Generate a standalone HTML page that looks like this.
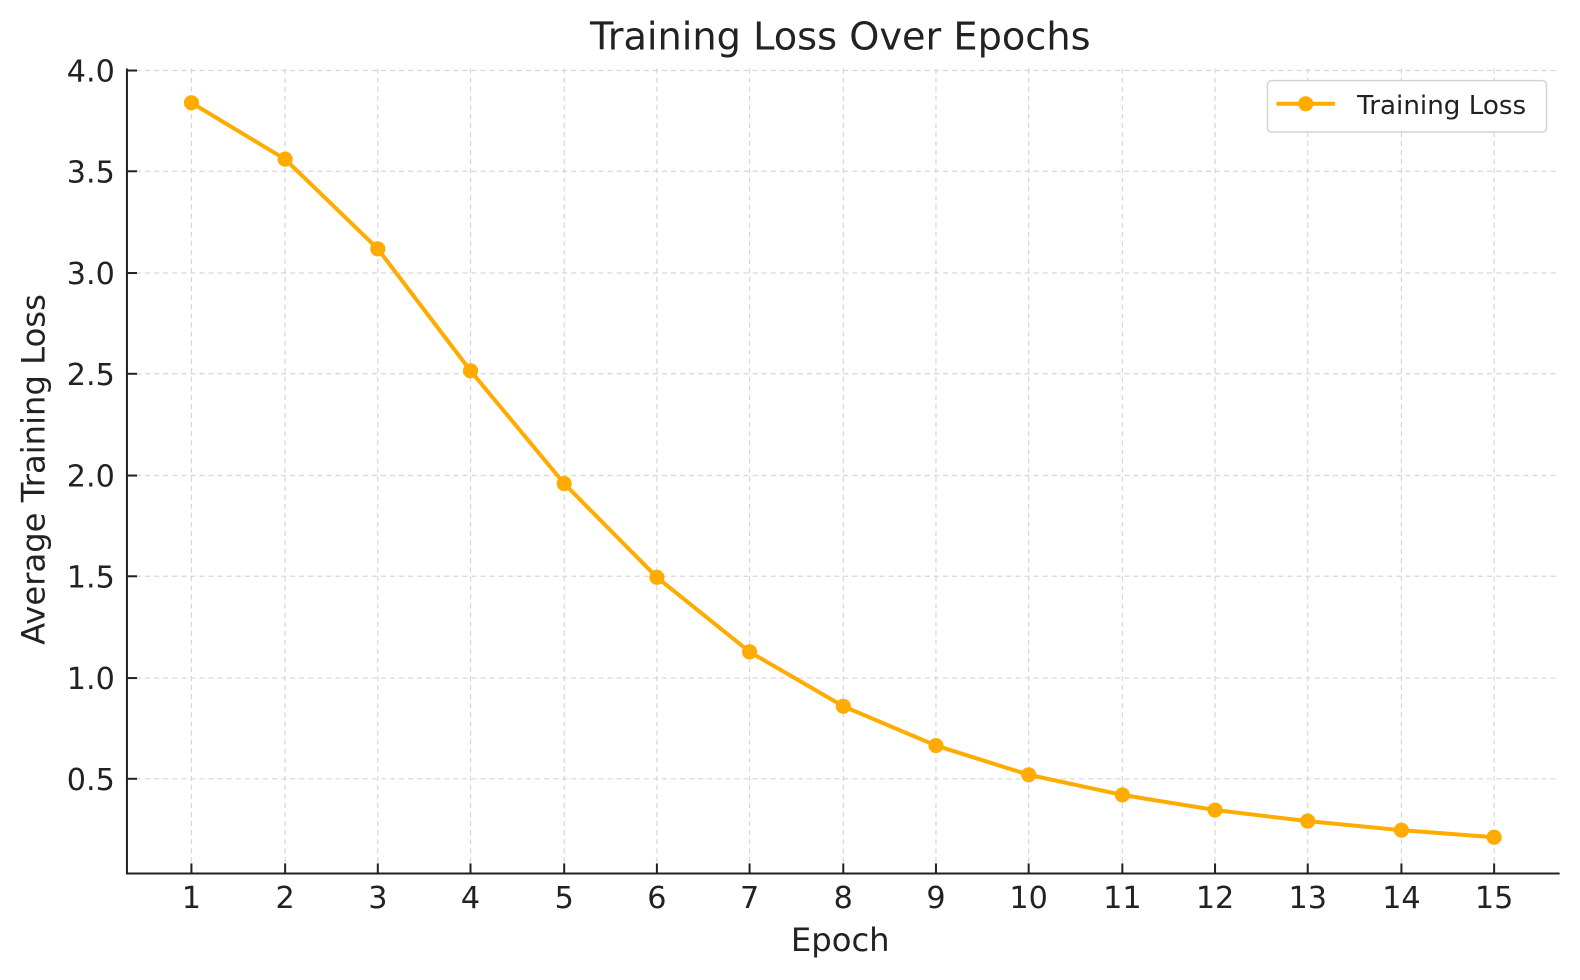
<!DOCTYPE html>
<html><head><style>html,body{margin:0;background:#fff;overflow:hidden}svg{display:block}text{font-family:"DejaVu Sans","Liberation Sans",sans-serif;fill:#222}</style></head>
<body>
<svg width="1580" height="980" viewBox="0 0 1580 980" xmlns="http://www.w3.org/2000/svg">
<g transform="scale(1.0075)">
<g stroke="#d6d6d6" stroke-width="1.2" stroke-dasharray="5,4">
<line x1="190" y1="68" x2="190" y2="867"/><line x1="283" y1="68" x2="283" y2="867"/><line x1="375" y1="68" x2="375" y2="867"/><line x1="467" y1="68" x2="467" y2="867"/><line x1="560" y1="68" x2="560" y2="867"/><line x1="652" y1="68" x2="652" y2="867"/><line x1="744" y1="68" x2="744" y2="867"/><line x1="837" y1="68" x2="837" y2="867"/><line x1="929" y1="68" x2="929" y2="867"/><line x1="1021" y1="68" x2="1021" y2="867"/><line x1="1114" y1="68" x2="1114" y2="867"/><line x1="1206" y1="68" x2="1206" y2="867"/><line x1="1298" y1="68" x2="1298" y2="867"/><line x1="1391" y1="68" x2="1391" y2="867"/><line x1="1483" y1="68" x2="1483" y2="867"/>
<line x1="126" y1="70" x2="1548" y2="70"/><line x1="126" y1="170" x2="1548" y2="170"/><line x1="126" y1="271" x2="1548" y2="271"/><line x1="126" y1="371" x2="1548" y2="371"/><line x1="126" y1="472" x2="1548" y2="472"/><line x1="126" y1="572" x2="1548" y2="572"/><line x1="126" y1="673" x2="1548" y2="673"/><line x1="126" y1="773" x2="1548" y2="773"/>
</g>
<g stroke="#222" stroke-width="2">
<line x1="126" y1="68" x2="126" y2="868"/><line x1="125" y1="867" x2="1548" y2="867"/>
</g>
<g stroke="#222" stroke-width="2">
<line x1="126" y1="70" x2="136" y2="70"/><line x1="126" y1="170" x2="136" y2="170"/><line x1="126" y1="271" x2="136" y2="271"/><line x1="126" y1="371" x2="136" y2="371"/><line x1="126" y1="472" x2="136" y2="472"/><line x1="126" y1="572" x2="136" y2="572"/><line x1="126" y1="673" x2="136" y2="673"/><line x1="126" y1="773" x2="136" y2="773"/>
<line x1="190" y1="857" x2="190" y2="867"/><line x1="283" y1="857" x2="283" y2="867"/><line x1="375" y1="857" x2="375" y2="867"/><line x1="467" y1="857" x2="467" y2="867"/><line x1="560" y1="857" x2="560" y2="867"/><line x1="652" y1="857" x2="652" y2="867"/><line x1="744" y1="857" x2="744" y2="867"/><line x1="837" y1="857" x2="837" y2="867"/><line x1="929" y1="857" x2="929" y2="867"/><line x1="1021" y1="857" x2="1021" y2="867"/><line x1="1114" y1="857" x2="1114" y2="867"/><line x1="1206" y1="857" x2="1206" y2="867"/><line x1="1298" y1="857" x2="1298" y2="867"/><line x1="1391" y1="857" x2="1391" y2="867"/><line x1="1483" y1="857" x2="1483" y2="867"/>
</g>
<g font-size="30" text-anchor="end">
<text x="114" y="81">4.0</text><text x="114" y="181">3.5</text><text x="114" y="282">3.0</text><text x="114" y="382">2.5</text><text x="114" y="483">2.0</text><text x="114" y="583">1.5</text><text x="114" y="684">1.0</text><text x="114" y="784">0.5</text>
</g>
<g font-size="30" text-anchor="middle">
<text x="190" y="901">1</text><text x="283" y="901">2</text><text x="375" y="901">3</text><text x="467" y="901">4</text><text x="560" y="901">5</text><text x="652" y="901">6</text><text x="744" y="901">7</text><text x="837" y="901">8</text><text x="929" y="901">9</text><text x="1021" y="901">10</text><text x="1114" y="901">11</text><text x="1206" y="901">12</text><text x="1298" y="901">13</text><text x="1391" y="901">14</text><text x="1483" y="901">15</text>
<text x="834" y="944" font-size="32">Epoch</text>
<text x="834" y="49" font-size="38" fill="#333">Training Loss Over Epochs</text>
<text transform="translate(44,466) rotate(-90)" font-size="32">Average Training Loss</text>
</g>
<polyline fill="none" stroke="#ffab00" stroke-width="4" stroke-linejoin="round" points="190,102 283,158 375,247 467,368 560,480 652,573 744,647 837,701 929,740 1021,769 1114,789 1206,804 1298,815 1391,824 1483,831"/>
<g fill="#ffab00">
<circle cx="190" cy="102" r="7.5"/><circle cx="283" cy="158" r="7.5"/><circle cx="375" cy="247" r="7.5"/><circle cx="467" cy="368" r="7.5"/><circle cx="560" cy="480" r="7.5"/><circle cx="652" cy="573" r="7.5"/><circle cx="744" cy="647" r="7.5"/><circle cx="837" cy="701" r="7.5"/><circle cx="929" cy="740" r="7.5"/><circle cx="1021" cy="769" r="7.5"/><circle cx="1114" cy="789" r="7.5"/><circle cx="1206" cy="804" r="7.5"/><circle cx="1298" cy="815" r="7.5"/><circle cx="1391" cy="824" r="7.5"/><circle cx="1483" cy="831" r="7.5"/>
</g>
<rect x="1258" y="80" width="277" height="51" rx="4" fill="#fff" stroke="#d4d4d4" stroke-width="1.5"/>
<line x1="1267" y1="103" x2="1325" y2="103" stroke="#ffab00" stroke-width="4"/>
<circle cx="1296" cy="103" r="7.5" fill="#ffab00"/>
<text x="1347" y="113" font-size="26" fill="#333">Training Loss</text>
</g>
</svg>
</body></html>
